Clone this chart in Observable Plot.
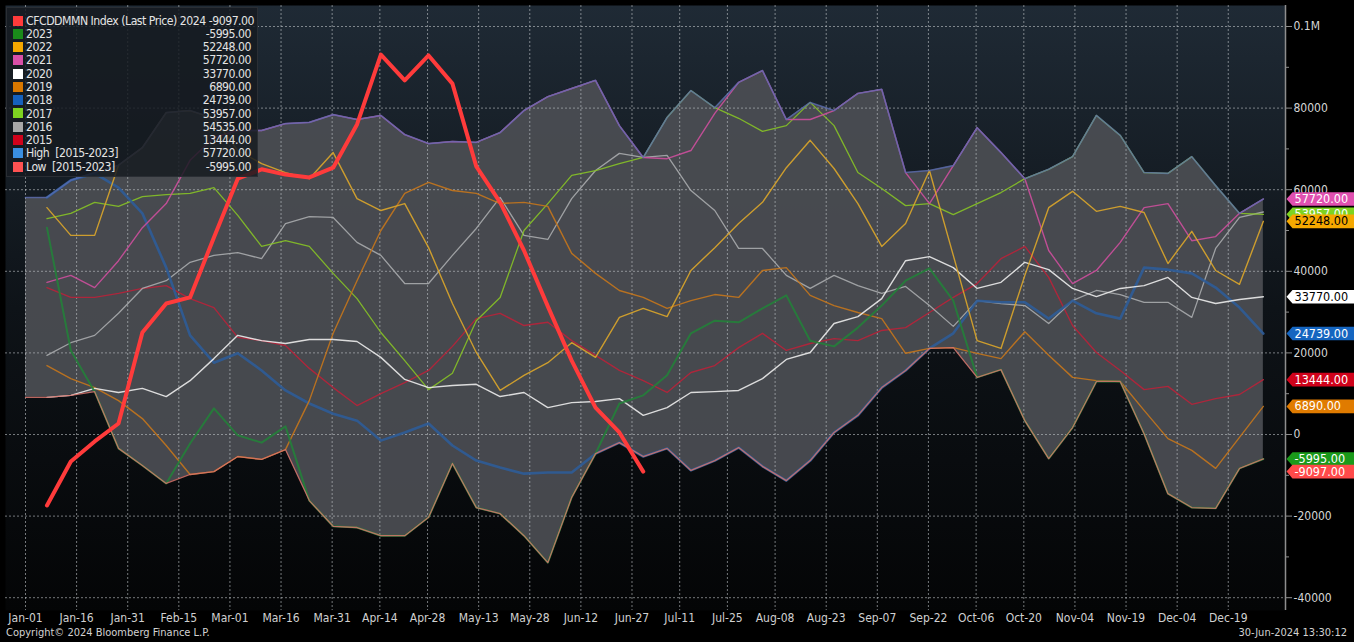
<!DOCTYPE html>
<html>
<head>
<meta charset="utf-8">
<script src="https://cdn.jsdelivr.net/npm/d3@7"></script>
<script src="https://cdn.jsdelivr.net/npm/@observablehq/plot@0.6"></script>
<style>
  html, body { margin: 0; padding: 0; background: #000; }
  #wrap { position: relative; width: 1354px; height: 642px; overflow: hidden;
          font-family: "Liberation Sans Narrow", "Arial Narrow", "DejaVu Sans Condensed", sans-serif; }
  #chart { position: absolute; left: 0; top: 0; }
  #legend { position: absolute; left: 6px; top: 7px; width: 252px; height: 170px; box-sizing: border-box;
            background: rgba(22, 26, 32, 0.84); border: 1px solid #2a2e34; padding: 6px 6px 0 6px; }
  .row { display: flex; align-items: center; height: 13.27px; font-size: 12.2px; letter-spacing: -0.5px;
         color: #e4e4e4; white-space: pre; }
  .sw { width: 10px; height: 10px; margin-right: 3px; flex: none; }
  .lab { flex: 1; }
  .val { text-align: right; padding-left: 3px; }
  .foot { position: absolute; top: 626px; font-size: 11px; color: #d2d2d2; white-space: pre; }
</style>
</head>
<body>
<div id="wrap">
  <div id="chart"></div>
  <div id="legend"></div>
  <div class="foot" style="left:6px">Copyright© 2024 Bloomberg Finance L.P.</div>
  <div class="foot" style="right:7px">30-Jun-2024 13:30:12</div>
</div>
<script>
// ---------- DATA ----------
const xTickLabels = ["Jan-01","Jan-16","Jan-31","Feb-15","Mar-01","Mar-16","Mar-31","Apr-14","Apr-28","May-13","May-28","Jun-12","Jun-27","Jul-11","Jul-25","Aug-08","Aug-23","Sep-07","Sep-22","Oct-06","Oct-20","Nov-04","Nov-19","Dec-04","Dec-19"];
const xTickDays   = [0, 15, 30, 45, 60, 75, 90, 104, 118, 133, 148, 163, 178, 192, 206, 220, 235, 250, 265, 279, 293, 308, 323, 338, 353];
const yTicks      = [-40000, -20000, 0, 20000, 40000, 60000, 80000, 100000];
const yMinorTicks = [-30000, -10000, 10000, 30000, 50000, 70000, 90000];

const y2024 = [-17400, -6600, -1700, 2700, 25000, 32100, 33600, 48300, 62700, 65000, 63700, 63000, 65400, 76000, 93100, 86800, 92900, 86000, 65700, 56900, 45100, 31400, 18100, 6600, 500, -9097];
const y2023 = [50700, 20600, 10500, -3400, -7600, -12000, -2200, 6400, -200, -2000, 2000, -16200, -22500, -22800, -24800, -24800, -20300, -7100, -17900, -19400, -24800, -31400, -15400, -4700, 7600, 9600, 14500, 24800, 27900, 27500, 30900, 34100, 23000, 21600, 26200, 31600, 37700, 40700, 32800, 14000, 15900, 3400, -5900, 1700, 13000, 13000, 200, -14500, -17900, -18100, -8300, -5995];
const y2022 = [55600, 48800, 48800, 66000, 70300, 78900, 79400, 77500, 69600, 66400, 64200, 62700, 69100, 57800, 54900, 56600, 45800, 32100, 20100, 10800, 14500, 17600, 22500, 18900, 28700, 30900, 28900, 40200, 45800, 51700, 56900, 65400, 72100, 65200, 56600, 46100, 51700, 64700, 43900, 23000, 21100, 39000, 55600, 59600, 54700, 55900, 54400, 41900, 49800, 40200, 36800, 52248];
const y2021 = [37300, 39000, 36000, 42600, 50700, 56600, 67200, 72800, 74500, 74500, 76200, 76500, 78400, 77200, 78200, 73500, 71300, 71800, 71600, 74000, 79400, 82800, 84800, 86800, 75700, 67900, 67600, 69600, 78700, 86300, 89200, 77200, 77200, 79400, 83600, 84600, 64200, 56600, 65900, 75200, 69100, 62700, 45100, 37000, 40200, 47100, 55600, 56600, 47500, 48500, 54200, 57720];
const y2020 = [9100, 9600, 11300, 10300, 11300, 9300, 13200, 18600, 24300, 23000, 22300, 23300, 23300, 22800, 18900, 13500, 11500, 12000, 12300, 9300, 10300, 6600, 7800, 8100, 8800, 4700, 6600, 10300, 10500, 10800, 13700, 18400, 20100, 27200, 28900, 33300, 42600, 43600, 40900, 35800, 37300, 42200, 40400, 35800, 33800, 35800, 36500, 38500, 33600, 32100, 33100, 33770];
const y2019 = [16900, 13700, 11500, 8300, 3900, -2700, -9800, -9100, -5400, -6100, -3700, 8300, 24800, 37700, 50000, 59100, 61800, 59800, 59100, 56600, 56900, 55900, 44400, 39500, 35300, 33600, 30900, 32800, 34300, 33600, 40200, 40900, 34100, 31600, 29900, 28400, 19900, 21100, 21300, 19900, 18600, 25200, 19400, 14000, 13200, 13000, 5900, -1000, -3900, -8300, -700, 6890];
const y2018 = [58100, 62300, 64000, 60500, 54200, 40900, 24300, 17600, 19900, 15700, 10800, 7600, 5100, 3400, -1500, 500, 2700, -2700, -6400, -8100, -9600, -9300, -9300, -4700, -2000, -5400, -3400, -8800, -6400, -3200, -7800, -11300, -6400, 500, 4700, 11500, 15700, 21100, 24800, 32800, 32400, 32400, 28400, 32800, 29700, 28400, 40900, 40400, 39500, 36000, 31100, 24739];
const y2017 = [52900, 54200, 56900, 55900, 58300, 58800, 59100, 60500, 53700, 46100, 47500, 46100, 39500, 33300, 25000, 18100, 11000, 15000, 27900, 33600, 50000, 56600, 63500, 64700, 66400, 67900, 77700, 84300, 80100, 77500, 74300, 75700, 81400, 75700, 64200, 60300, 56100, 56600, 53900, 56600, 59300, 62700, 65000, 68100, 78200, 73300, 64200, 64000, 68100, 61000, 54200, 53957];
const y2016 = [19400, 22500, 24300, 29700, 35800, 37700, 42200, 43900, 44600, 43100, 51700, 53400, 53200, 47100, 43900, 37000, 37000, 43900, 50500, 58100, 48800, 47800, 57800, 64700, 68900, 67900, 68400, 59800, 54900, 45600, 45600, 39000, 35800, 39000, 36500, 34600, 36300, 31600, 26500, 32800, 32100, 31600, 27200, 32800, 35300, 34300, 32400, 32400, 28700, 45600, 53200, 54535];
const y2015 = [36000, 33600, 33600, 34600, 35800, 36500, 33300, 31100, 23800, 23000, 21800, 16200, 11500, 7100, 10000, 12700, 15700, 21600, 28400, 29700, 26700, 27500, 23000, 19400, 15700, 13200, 10300, 15200, 16900, 21300, 24800, 20600, 22300, 23500, 23000, 25500, 26200, 29900, 33600, 37000, 43100, 46100, 38500, 26700, 20100, 15700, 11000, 11800, 7400, 8800, 9800, 13444];
const highs = [58100, 62300, 64200, 66000, 70300, 78900, 79400, 77500, 74500, 74500, 76200, 76500, 78400, 77200, 78200, 73500, 71300, 71800, 71600, 74000, 79400, 82800, 84800, 86800, 75700, 67900, 77700, 84300, 80100, 86300, 89200, 77200, 81400, 79400, 83600, 84600, 64200, 64700, 65900, 75200, 69100, 62700, 65000, 68100, 78200, 73300, 64200, 64000, 68100, 61000, 54200, 57720];
const lows  = [9100, 9600, 10500, -3400, -7600, -12000, -9800, -9100, -5400, -6100, -3700, -16200, -22500, -22800, -24800, -24800, -20300, -7100, -17900, -19400, -24800, -31400, -15400, -4700, -2000, -5400, -3400, -8800, -6400, -3200, -7800, -11300, -6400, 500, 4700, 11500, 15700, 21100, 21300, 14000, 15900, 3400, -5900, 1700, 13000, 13000, 200, -14500, -17900, -18100, -8300, -5995];

// weekly observation day-of-year (first weekly print ~ Jan 7)
const obsDay = d3.range(highs.length).map(i => 6.3 + 7 * i);

// ---------- STYLE ----------
const FONT = '"Liberation Sans Narrow", "Arial Narrow", "DejaVu Sans Condensed", sans-serif';
const X_DOMAIN = [-5.87, 369.8];
const Y_DOMAIN = [-43138, 105148];

const years = [
  {name: "2015", values: y2015, line: "#b8223a", width: 1.4, tag: "#d0021b", tagText: "#fff", legend: "#d0021b"},
  {name: "2016", values: y2016, line: "#a9abad", width: 1.3, tag: null,      tagText: "#000", legend: "#a8a8a8"},
  {name: "2017", values: y2017, line: "#86c226", width: 1.3, tag: "#7ed321", tagText: "#fff", legend: "#7ed321"},
  {name: "2018", values: y2018, line: "#2d5c98", width: 2.6, tag: "#1565c0", tagText: "#fff", legend: "#1560bd"},
  {name: "2019", values: y2019, line: "#c4761c", width: 1.4, tag: "#e07b00", tagText: "#fff", legend: "#d97800"},
  {name: "2020", values: y2020, line: "#ececec", width: 1.4, tag: "#ffffff", tagText: "#000", legend: "#ffffff"},
  {name: "2021", values: y2021, line: "#cc4f9c", width: 1.4, tag: "#e050b0", tagText: "#fff", legend: "#d94fa8"},
  {name: "2022", values: y2022, line: "#dba62a", width: 1.4, tag: "#f5a800", tagText: "#000", legend: "#f5a800"},
  {name: "2023", values: y2023, line: "#23803a", width: 2.0, tag: "#1a9a1a", tagText: "#fff", legend: "#1a8a1a"}
];
const cur = {name: "2024", values: y2024, line: "#ff3b3b", tag: "#ff4a4a", tagText: "#fff", legend: "#ff3b3b"};

const rowsOf = vals => vals.map((v, i) => ({day: obsDay[i], v}));
// band rows: the shaded range begins at the Jan-01 gridline with the first week's values
const bandRows = [{day: 0, hi: highs[0], lo: lows[0]}].concat(highs.map((h, i) => ({day: obsDay[i], hi: h, lo: lows[i]})));

const marks = [];
marks.push(Plot.frame({fill: "url(#bgGrad)", stroke: "none"}));
marks.push(Plot.areaY(bandRows, {x: "day", y1: "lo", y2: "hi", fill: "#4b4e53", fillOpacity: 0.93}));
marks.push(Plot.ruleY(yTicks, {stroke: "#c0c4c8", strokeOpacity: 0.6, strokeDasharray: "2,2", strokeWidth: 1}));
marks.push(Plot.ruleX(xTickDays, {stroke: "#c0c4c8", strokeOpacity: 0.6, strokeDasharray: "2,2", strokeWidth: 1}));
for (const s of years) {
  marks.push(Plot.line(rowsOf(s.values), {x: "day", y: "v", stroke: s.line, strokeWidth: s.width, strokeOpacity: 0.9, strokeLinejoin: "round"}));
}
marks.push(Plot.line(bandRows, {x: "day", y: "hi", stroke: "#5a6cb4", strokeWidth: 1.6, strokeOpacity: 0.75}));
marks.push(Plot.line(bandRows, {x: "day", y: "lo", stroke: "#d8746c", strokeWidth: 1.3, strokeOpacity: 0.85}));
marks.push(Plot.line(rowsOf(cur.values), {x: "day", y: "v", stroke: cur.line, strokeWidth: 4, strokeLinejoin: "round", strokeLinecap: "round"}));

// right axis
marks.push(Plot.ruleX([X_DOMAIN[1]], {stroke: "#8e8e8e", strokeWidth: 1.5}));
marks.push(Plot.axisY({anchor: "right", ticks: yMinorTicks, tickSize: 3, tickFormat: () => "", stroke: "#8e8e8e", label: null}));
marks.push(Plot.axisY({anchor: "right", ticks: yTicks, tickSize: 6, tickPadding: 2, stroke: "#8e8e8e", fill: "#d6d6d6",
  fontSize: 12, tickFormat: d => d === 100000 ? "0.1M" : String(d), label: null}));
marks.push(Plot.axisX({ticks: xTickDays, tickSize: 0, tickPadding: 3, fill: "#d0d0d0", fontSize: 12,
  tickFormat: d => xTickLabels[xTickDays.indexOf(d)], label: null}));

// last-value tags on the right axis
const tagShape = {draw(ctx) { ctx.moveTo(1, 0); ctx.lineTo(7, -6.8); ctx.lineTo(70, -6.8); ctx.lineTo(70, 6.8); ctx.lineTo(7, 6.8); ctx.closePath(); }};
const tagOrder = ["2017", "2021", "2022", "2020", "2018", "2015", "2019", "2023"];
const tagSeries = tagOrder.map(n => years.find(s => s.name === n)).concat([cur]);
for (const s of tagSeries) {
  const last = [{v: s.values[s.values.length - 1]}];
  marks.push(Plot.dot(last, {x: () => X_DOMAIN[1], y: "v", symbol: tagShape, r: 4, fill: s.tag, stroke: "none"}));
  marks.push(Plot.text(last, {x: () => X_DOMAIN[1], y: "v", dx: 9, text: d => d.v.toFixed(2), textAnchor: "start",
    fill: s.tagText, fontSize: 12.5}));
}

const svg = Plot.plot({
  width: 1354, height: 642,
  marginLeft: 5, marginRight: 69, marginTop: 5, marginBottom: 32,
  x: {type: "linear", domain: X_DOMAIN},
  y: {type: "linear", domain: Y_DOMAIN},
  style: {background: "transparent", fontFamily: FONT, fontSize: "12px", color: "#d0d0d0", overflow: "visible"},
  marks
});
const defs = document.createElementNS("http://www.w3.org/2000/svg", "defs");
defs.innerHTML = '<linearGradient id="bgGrad" x1="0" y1="0" x2="0" y2="1">' +
  '<stop offset="0" stop-color="#1f2a35"/><stop offset="0.5" stop-color="#0e1318"/><stop offset="1" stop-color="#040506"/></linearGradient>';
svg.insertBefore(defs, svg.firstChild);
document.getElementById("chart").appendChild(svg);

// legend
const legendItems = [
  {label: "CFCDDMMN Index (Last Price) 2024", color: cur.legend, v: cur.values[cur.values.length - 1]},
  ...years.slice().reverse().map(s => ({label: s.name, color: s.legend, v: s.values[s.values.length - 1]})),
  {label: "High  [2015-2023]", color: "#3a8ee0", v: highs[highs.length - 1]},
  {label: "Low  [2015-2023]", color: "#ff5252", v: lows[lows.length - 1]}
];
const leg = document.getElementById("legend");
for (const it of legendItems) {
  const r = document.createElement("div"); r.className = "row";
  r.innerHTML = `<span class="sw" style="background:${it.color}"></span><span class="lab">${it.label}</span><span class="val">${it.v.toFixed(2)}</span>`;
  leg.appendChild(r);
}
</script>
</body>
</html>
